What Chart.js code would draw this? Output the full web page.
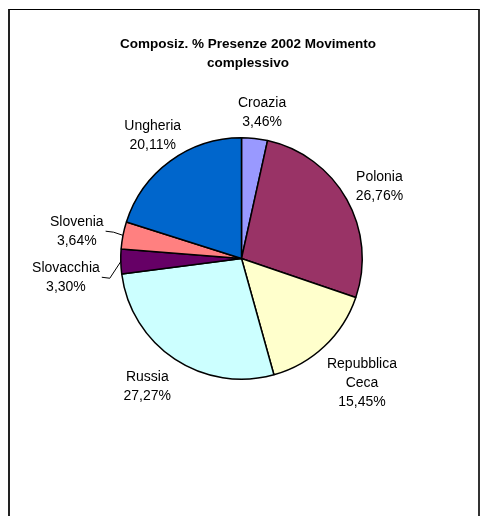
<!DOCTYPE html>
<html>
<head>
<meta charset="utf-8">
<script src="https://cdn.jsdelivr.net/npm/chart.js@4/dist/chart.umd.min.js"></script>
<style>
  html, body { margin: 0; padding: 0; background: #fff; overflow: hidden; }
  #wrap { position: relative; width: 480px; height: 516px; overflow: hidden; }
  #frame {
    position: absolute; left: 8px; top: 9px; width: 468px; height: 507px;
    border-top: 1px solid #000; border-left: 2px solid #222; border-right: 2px solid #333;
  }
  canvas { position: absolute; left: 0; top: 0; }
</style>
</head>
<body>
<div id="wrap">
  <div id="frame"></div>
  <canvas id="torta" width="480" height="516"></canvas>
</div>
<script>
// dati del grafico
const paesi = ["Croazia", "Polonia", "Repubblica Ceca", "Russia", "Slovacchia", "Slovenia", "Ungheria"];
const presenze = [3.46, 26.76, 15.45, 27.27, 3.30, 3.64, 20.11];
const colori = ["#9999FF", "#993366", "#FFFFCC", "#CCFFFF", "#660066", "#FF8080", "#0066CC"];
// righe delle etichette (nome spezzato come nell'originale)
const righeNome = [["Croazia"], ["Polonia"], ["Repubblica", "Ceca"], ["Russia"], ["Slovacchia"], ["Slovenia"], ["Ungheria"]];
// spostamenti manuali delle etichette rispetto alla posizione automatica
const spostX = [4, 5, 8, -10, -13, -12, 4];
const spostY = [1, 1, 10, 5, 15, 1, -4];
const conLinea = [false, false, false, false, true, true, false];

const titolo = ["Composiz. % Presenze 2002 Movimento", "complessivo"];

const fmt = v => v.toFixed(2).replace(".", ",") + "%";

// etichette e titolo disegnati a mano, stile Excel
const etichette = {
  id: "etichette",
  afterDraw(chart) {
    const ctx = chart.ctx;
    const arcs = chart.getDatasetMeta(0).data;
    ctx.save();
    ctx.fillStyle = "#000";
    ctx.textAlign = "center";
    ctx.textBaseline = "middle";

    ctx.font = "bold 13.5px 'Liberation Sans', Arial, sans-serif";
    titolo.forEach((t, i) => ctx.fillText(t, 248, 44 + i * 19));

    ctx.font = "14px 'Liberation Sans', Arial, sans-serif";
    const lh = 19;
    arcs.forEach((arc, i) => {
      const { x, y, startAngle, endAngle, outerRadius } = arc.getProps(["x", "y", "startAngle", "endAngle", "outerRadius"], true);
      const mid = (startAngle + endAngle) / 2;
      const ux = Math.cos(mid), uy = Math.sin(mid);
      const righe = [...righeNome[i], fmt(presenze[i])];
      const w = Math.max(...righe.map(r => ctx.measureText(r).width));
      const h = righe.length * lh;
      const px = x + (outerRadius + 8) * ux;
      const py = y + (outerRadius + 8) * uy;
      const cx = px + ux * w / 2 + spostX[i];
      const cy = py + uy * h / 2 + spostY[i];
      righe.forEach((r, k) => ctx.fillText(r, cx, cy - h / 2 + lh / 2 + k * lh));
      if (conLinea[i]) {
        const ex = x + outerRadius * ux, ey = y + outerRadius * uy;
        const lw = ctx.measureText(righeNome[i][0]).width;
        ctx.strokeStyle = "#000";
        ctx.lineWidth = 1;
        ctx.beginPath();
        ctx.moveTo(cx + lw / 2 + 2, cy);
        ctx.lineTo(cx + lw / 2 + 10, cy + 1);
        ctx.lineTo(ex, ey);
        ctx.stroke();
      }
    });
    ctx.restore();
  }
};

new Chart(document.getElementById("torta"), {
  type: "pie",
  data: {
    labels: paesi,
    datasets: [{
      data: presenze,
      backgroundColor: colori,
      borderColor: "#000",
      borderWidth: 1.5
    }]
  },
  options: {
    responsive: false,
    animation: false,
    layout: { padding: { left: 120, right: 117, top: 137, bottom: 136 } },
    plugins: {
      legend: { display: false },
      tooltip: { enabled: false },
      title: { display: false }
    }
  },
  plugins: [etichette]
});
</script>
</body>
</html>
